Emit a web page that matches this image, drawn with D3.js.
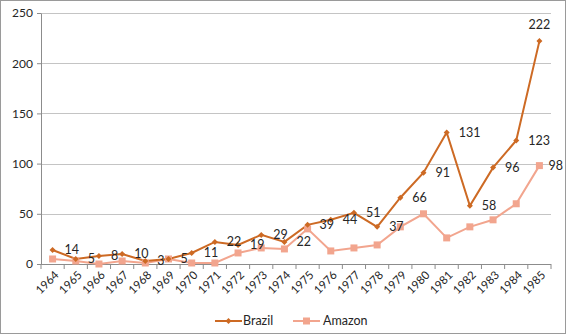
<!DOCTYPE html>
<html>
<head>
<meta charset="utf-8">
<script src="https://cdn.jsdelivr.net/npm/d3@7"></script>
<style>
  body { margin: 0; background: #fff; }
  svg { display: block; font-family: Lato, "Open Sans", sans-serif; }
</style>
</head>
<body>
<svg id="drawing_region"></svg>
<script>
// data
const years = ['1964','1965','1966','1967','1968','1969','1970','1971','1972','1973','1974',
               '1975','1976','1977','1978','1979','1980','1981','1982','1983','1984','1985'];
const brazil = [14, 5, 8, 10, 3, 5, 11, 22, 19, 29, 22, 39, 44, 51, 37, 66, 91, 131, 58, 96, 123, 222];
const amazon = [5, 3, 0, 3, 1, 5, 1, 1, 11, 16, 15, 35, 13, 16, 19, 37, 50, 26, 37, 44, 60, 98];
const yticks = [0, 50, 100, 150, 200, 250];
const seriesNames = ['Brazil', 'Amazon'];

const width = 566, height = 336;
const margin = {top: 13, right: 15, bottom: 72, left: 41};
const colors = {Brazil: '#cd6a24', Amazon: '#f2a58e'};

const svg = d3.select('#drawing_region')
    .attr('width', width)
    .attr('height', height);

// outer frame
svg.append('rect')
    .attr('x', 0.5).attr('y', 0.5)
    .attr('width', width - 1).attr('height', height - 3)
    .attr('fill', 'none')
    .attr('stroke', '#9a9a9a');

const inner_width = width - margin.left - margin.right;
const inner_height = 264 - margin.top;

const chart = svg.append('g')
    .attr('transform', `translate(${margin.left}, ${margin.top})`);

const xscale = d3.scaleBand()
    .domain(years)
    .range([0, inner_width]);

const yscale = d3.scaleLinear()
    .domain([0, 250])
    .range([inner_height, 0]);

const xc = d => xscale(d) + xscale.bandwidth() / 2;

// gridlines
chart.append('g')
    .selectAll('line')
    .data(yticks.filter(d => d > 0))
    .join('line')
    .attr('x1', 0).attr('x2', inner_width)
    .attr('y1', d => Math.round(yscale(d)) + 0.5)
    .attr('y2', d => Math.round(yscale(d)) + 0.5)
    .attr('stroke', '#c4c4c4');

// y axis
const yaxis_group = chart.append('g')
    .call(d3.axisLeft(yscale).tickValues(yticks).tickSize(4).tickPadding(4).tickSizeOuter(0));
yaxis_group.select('.domain').attr('stroke', '#8c8c8c');
yaxis_group.selectAll('.tick line').attr('stroke', '#8c8c8c');
yaxis_group.selectAll('.tick text')
    .attr('font-size', 12)
    .attr('fill', '#262626')
    .attr('font-family', 'Lato, sans-serif');

// x axis with ticks at band boundaries
const xaxis_group = chart.append('g')
    .attr('transform', `translate(0, ${inner_height})`);
xaxis_group.append('line')
    .attr('x1', 0).attr('x2', inner_width)
    .attr('y1', 0.5).attr('y2', 0.5)
    .attr('stroke', '#8c8c8c');
xaxis_group.selectAll('.bt')
    .data(years.concat(['end']))
    .join('line')
    .attr('class', 'bt')
    .attr('x1', (d, i) => i < years.length ? xscale(d) : inner_width)
    .attr('x2', (d, i) => i < years.length ? xscale(d) : inner_width)
    .attr('y1', 0).attr('y2', 5)
    .attr('stroke', '#8c8c8c');
xaxis_group.selectAll('text')
    .data(years)
    .join('text')
    .attr('transform', d => `translate(${xc(d) + 4}, 9) rotate(-45)`)
    .attr('text-anchor', 'end')
    .attr('dy', '0.35em')
    .attr('font-size', 11.5)
    .attr('fill', '#262626')
    .text(d => d);

// lines
const line = d3.line()
    .x((d, i) => xc(years[i]))
    .y(d => yscale(d));

chart.append('path')
    .datum(amazon)
    .attr('d', line)
    .attr('fill', 'none')
    .attr('stroke', colors.Amazon)
    .attr('stroke-width', 2);

chart.append('path')
    .datum(brazil)
    .attr('d', line)
    .attr('fill', 'none')
    .attr('stroke', colors.Brazil)
    .attr('stroke-width', 2);

// markers
chart.append('g')
    .selectAll('rect')
    .data(amazon)
    .join('rect')
    .attr('x', (d, i) => xc(years[i]) - 3.5)
    .attr('y', d => yscale(d) - 3.5)
    .attr('width', 7).attr('height', 7)
    .attr('fill', colors.Amazon);

const diamond = d3.symbol().type(d3.symbolSquare).size(18);
chart.append('g')
    .selectAll('path')
    .data(brazil)
    .join('path')
    .attr('d', diamond)
    .attr('transform', (d, i) => `translate(${xc(years[i])}, ${yscale(d)}) rotate(45)`)
    .attr('fill', colors.Brazil);

// data labels
const last = brazil.length - 1;
chart.append('g')
    .selectAll('text')
    .data(brazil)
    .join('text')
    .attr('x', (d, i) => i === last ? xc(years[i]) : xc(years[i]) + 12)
    .attr('y', (d, i) => i === last ? yscale(d) - 16 : yscale(d))
    .attr('dy', '0.35em')
    .attr('text-anchor', (d, i) => i === last ? 'middle' : 'start')
    .attr('font-size', 12.5)
    .attr('fill', '#262626')
    .text(d => d);

chart.append('text')
    .attr('x', xc(years[last]) + 9)
    .attr('y', yscale(amazon[last]))
    .attr('dy', '0.35em')
    .attr('font-size', 12.5)
    .attr('fill', '#262626')
    .text(amazon[last]);

// legend
const legend = svg.append('g').attr('transform', 'translate(215, 321)');
const items = legend.selectAll('g')
    .data(seriesNames)
    .join('g')
    .attr('transform', (d, i) => `translate(${i * 78}, 0)`);
items.append('line')
    .attr('x1', 0).attr('x2', 27)
    .attr('stroke', d => colors[d])
    .attr('stroke-width', 2);
items.filter(d => d === 'Brazil').append('path')
    .attr('d', diamond)
    .attr('transform', 'translate(13.5, 0) rotate(45)')
    .attr('fill', colors.Brazil);
items.filter(d => d === 'Amazon').append('rect')
    .attr('x', 10).attr('y', -3.5)
    .attr('width', 7).attr('height', 7)
    .attr('fill', colors.Amazon);
items.append('text')
    .attr('x', (d, i) => i === 0 ? 28 : 30)
    .attr('dy', '0.35em')
    .attr('font-size', 12.5)
    .attr('fill', '#262626')
    .text(d => d);
</script>
</body>
</html>
